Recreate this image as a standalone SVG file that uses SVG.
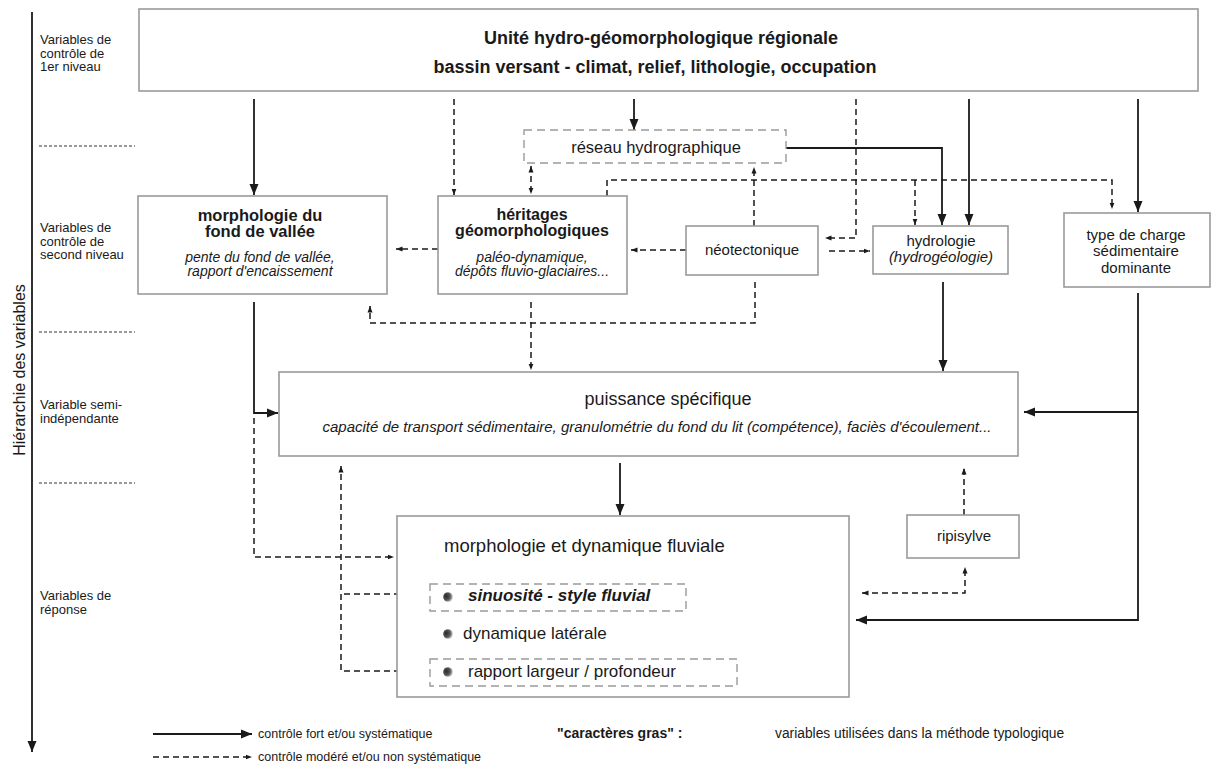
<svg xmlns="http://www.w3.org/2000/svg" width="1215" height="769" viewBox="0 0 1215 769">
<defs>
<style>
text{font-family:"Liberation Sans",Arial,Helvetica,sans-serif;fill:#1a1a1a}
.box{fill:#fff;stroke:#9a9a9a;stroke-width:1.6}
.dbox{fill:#fff;stroke:#9a9a9a;stroke-width:1.4;stroke-dasharray:8 5}
.s{fill:none;stroke:#1a1a1a;stroke-width:1.8}
.d{fill:none;stroke:#1a1a1a;stroke-width:1.5;stroke-dasharray:6 4}
.sep{stroke:#333;stroke-width:1.2;stroke-dasharray:3 2}
.lab{font-size:13px}
.b{font-weight:bold}
.i{font-style:italic}
.m{text-anchor:middle}
</style>
<marker id="as" markerUnits="userSpaceOnUse" markerWidth="12" markerHeight="10" refX="11" refY="5" orient="auto-start-reverse"><path d="M0,0.5 L11,5 L0,9.5 z" fill="#1a1a1a"/></marker>
<marker id="ad" markerUnits="userSpaceOnUse" markerWidth="7" markerHeight="6" refX="6.5" refY="3" orient="auto-start-reverse"><path d="M0,0.5 L6.5,3 L0,5.5 z" fill="#1a1a1a"/></marker>
<radialGradient id="ball" cx="0.35" cy="0.45" r="0.7" fx="0.3" fy="0.4">
<stop offset="0" stop-color="#2a2a2a"/><stop offset="0.55" stop-color="#555"/><stop offset="1" stop-color="#e0e0e0"/>
</radialGradient>
</defs>
<rect width="1215" height="769" fill="#fff"/>

<g id="axis">
<line x1="32" y1="12" x2="32" y2="752" class="s" marker-end="url(#as)"/>
<text transform="translate(25,370) rotate(-90)" class="m" font-size="16">Hiérarchie des variables</text>
<line x1="39" y1="146" x2="135" y2="146" class="sep"/>
<line x1="39" y1="332" x2="135" y2="332" class="sep"/>
<line x1="39" y1="483" x2="135" y2="483" class="sep"/>
<text class="lab" x="40" y="44">Variables de</text>
<text class="lab" x="40" y="57.5">contrôle de</text>
<text class="lab" x="40" y="71">1er niveau</text>
<text class="lab" x="40" y="232">Variables de</text>
<text class="lab" x="40" y="245.5">contrôle de</text>
<text class="lab" x="40" y="259">second niveau</text>
<text class="lab" x="40" y="409">Variable semi-</text>
<text class="lab" x="40" y="423">indépendante</text>
<text class="lab" x="40" y="600">Variables de</text>
<text class="lab" x="40" y="614">réponse</text>
</g>

<g id="connectors">
<path class="s" d="M254,99 V195" marker-end="url(#as)"/>
<path class="d" d="M454,99 V195" marker-end="url(#ad)"/>
<path class="s" d="M634,99 V130" marker-end="url(#as)"/>
<path class="d" d="M856,99 V238 H825" marker-end="url(#ad)"/>
<path class="s" d="M969,99 V225" marker-end="url(#as)"/>
<path class="s" d="M1138,99 V212" marker-end="url(#as)"/>
<path class="s" d="M786,148 H942 V225" marker-end="url(#as)"/>
<path class="d" d="M607,196 V180 H1112 V209" marker-end="url(#ad)"/>
<path class="d" d="M915,180 V225" marker-end="url(#ad)"/>
<path class="d" d="M531,166 V194" marker-start="url(#ad)" marker-end="url(#ad)"/>
<path class="d" d="M754,226 V167" marker-end="url(#ad)"/>
<path class="d" d="M686,250 H631" marker-end="url(#ad)"/>
<path class="d" d="M829,251 H870" marker-end="url(#ad)"/>
<path class="d" d="M438,249 H396" marker-end="url(#ad)"/>
<path class="d" d="M755,282 V323 H370 V306" marker-end="url(#ad)"/>
<path class="d" d="M531,302 V370" marker-end="url(#ad)"/>
<path class="s" d="M254,302 V413 H278" marker-end="url(#as)"/>
<path class="s" d="M943,282 V371" marker-end="url(#as)"/>
<path class="s" d="M1138,293 V620 H856" marker-end="url(#as)"/>
<path class="s" d="M1138,412 H1024" marker-end="url(#as)"/>
<path class="s" d="M620,463 V515" marker-end="url(#as)"/>
<path class="d" d="M254,418 V557 H394" marker-end="url(#ad)"/>
<path class="d" d="M430,594 H341"/>
<path class="d" d="M430,671 H341 V466" marker-end="url(#ad)"/>
<path class="d" d="M964,515 V468" marker-end="url(#ad)"/>
<path class="d" d="M862,593 H965 V567" marker-start="url(#ad)" marker-end="url(#ad)"/>
</g>

<g id="n-unite">
<rect class="box" x="139" y="9" width="1059" height="82"/>
<text class="b m" x="661" y="44" font-size="18">Unité hydro-géomorphologique régionale</text>
<text class="b m" x="655" y="73" font-size="18">bassin versant - climat, relief, lithologie, occupation</text>
</g>

<g id="n-reseau">
<rect class="dbox" x="524" y="130" width="262" height="33"/>
<text class="m" x="656" y="153" font-size="16.5">réseau hydrographique</text>
</g>

<g id="n-morpho-fond">
<rect class="box" x="138" y="196" width="249" height="98"/>
<text class="b m" x="260" y="221" font-size="16.5">morphologie du</text>
<text class="b m" x="260" y="237" font-size="16.5">fond de vallée</text>
<text class="i m" x="260" y="262" font-size="14">pente du fond de vallée,</text>
<text class="i m" x="260" y="276" font-size="14">rapport d'encaissement</text>
</g>

<g id="n-heritages">
<rect class="box" x="438" y="196" width="189" height="98"/>
<text class="b m" x="532" y="220" font-size="16">héritages</text>
<text class="b m" x="532" y="236" font-size="16">géomorphologiques</text>
<text class="i m" x="532" y="262" font-size="14">paléo-dynamique,</text>
<text class="i m" x="532" y="276" font-size="14">dépôts fluvio-glaciaires...</text>
</g>

<g id="n-neotectonique">
<rect class="box" x="686" y="226" width="132" height="49"/>
<text class="m" x="752" y="255" font-size="15">néotectonique</text>
</g>

<g id="n-hydrologie">
<rect class="box" x="873" y="226" width="135" height="48"/>
<text class="m" x="941" y="246" font-size="15">hydrologie</text>
<text class="i m" x="941" y="262" font-size="15">(hydrogéologie)</text>
</g>

<g id="n-charge">
<rect class="box" x="1064" y="213" width="146" height="74"/>
<text class="m" x="1136" y="240" font-size="15">type de charge</text>
<text class="m" x="1136" y="256" font-size="15">sédimentaire</text>
<text class="m" x="1136" y="273" font-size="15">dominante</text>
</g>

<g id="n-puissance">
<rect class="box" x="279" y="372" width="739" height="84"/>
<text class="m" x="668" y="405" font-size="18">puissance spécifique</text>
<text class="i m" x="657" y="432" font-size="15">capacité de transport sédimentaire, granulométrie du fond du lit (compétence), faciès d'écoulement...</text>
</g>

<g id="n-ripisylve">
<rect class="box" x="907" y="515" width="112" height="43"/>
<text class="m" x="964" y="541" font-size="15">ripisylve</text>
</g>

<g id="n-morpho-dyn">
<rect class="box" x="397" y="516" width="452" height="181"/>
<text x="444" y="552" font-size="18.5">morphologie et dynamique fluviale</text>
<rect class="dbox" x="430" y="584" width="256" height="27"/>
<circle cx="448" cy="597" r="4.8" fill="url(#ball)"/>
<text class="b i" x="468" y="601" font-size="17">sinuosité - style fluvial</text>
<circle cx="448" cy="634" r="4.8" fill="url(#ball)"/>
<text x="463" y="639" font-size="17">dynamique latérale</text>
<rect class="dbox" x="430" y="659" width="307" height="27"/>
<circle cx="448" cy="672" r="4.8" fill="url(#ball)"/>
<text x="468" y="677" font-size="17">rapport largeur / profondeur</text>
</g>

<g id="legend">
<path class="s" d="M153,734 H252" marker-end="url(#as)"/>
<text x="258" y="738" font-size="12.5">contrôle fort et/ou systématique</text>
<path class="d" d="M153,757 H252" marker-end="url(#ad)"/>
<text x="258" y="761" font-size="12.5">contrôle modéré et/ou non systématique</text>
<text class="b" x="557" y="738" font-size="14">"caractères gras" :</text>
<text x="775" y="738" font-size="13.8">variables utilisées dans la méthode typologique</text>
</g>
</svg>
